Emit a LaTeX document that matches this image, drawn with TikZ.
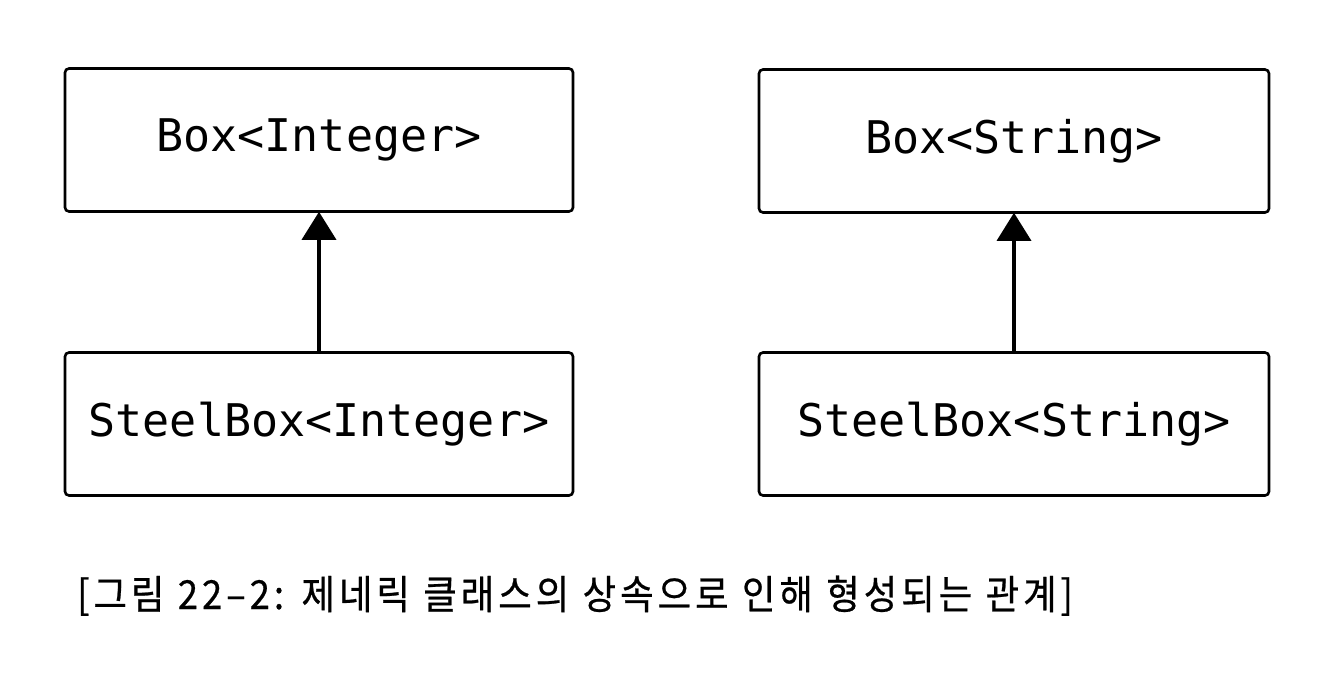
\documentclass[tikz,border=0pt]{standalone}
\usepackage{fontspec}
\setmonofont{DejaVu Sans Mono}
\newfontfamily\kr[FakeStretch=0.91,LetterSpace=10,WordSpace=1.1,FakeBold=0.6]{Noto Sans CJK KR}
\usetikzlibrary{arrows.meta}
\begin{document}
\begin{tikzpicture}[x=1pt,y=-1pt,
  classbox/.style={draw=black, line width=2.6pt, rounded corners=4pt,
    minimum width=508pt, minimum height=143pt, inner sep=0pt,
    font=\ttfamily\fontsize{45}{54}\selectfont, text=black},
  inherit/.style={line width=3.5pt, -{Triangle[width=34pt,length=28pt]}, shorten >=-1pt}]
\useasboundingbox (0,0) rectangle (1317,677);
\fill[white] (0,0) rectangle (1317,677);
\node[classbox] (b1) at (319,140) {Box<Integer>};
\node[classbox, minimum width=510pt] (b2) at (1014,141) {Box<String>};
\node[classbox] (b3) at (319,424) {SteelBox<Integer>};
\node[classbox, minimum width=510pt] (b4) at (1014,424) {SteelBox<String>};
\draw[inherit] (b3.north) -- (b1.south);
\draw[inherit] (b4.north) -- (b2.south);
\node[anchor=base west, inner sep=0pt, font=\kr\fontsize{40}{48}\selectfont] (cap) at (77,609)
  {[그림 22–2: 제네릭 클래스의 상속으로 인해 형성되는 관계]};
\end{tikzpicture}
\end{document}
